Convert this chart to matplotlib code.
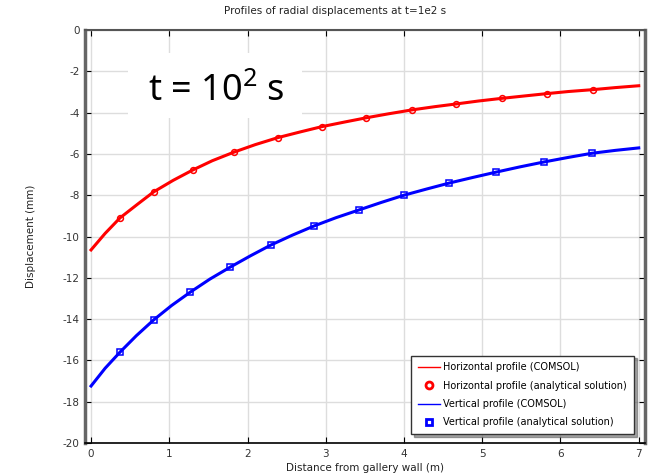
import matplotlib.pyplot as plt
from matplotlib.lines import Line2D
from matplotlib.patches import Rectangle

# =========================
# DATA
# =========================

# COMSOL curves (mm)
x_h_line = [0.0, 0.18, 0.37, 0.6, 0.8, 1.05, 1.3, 1.55, 1.83, 2.1, 2.39, 2.68, 2.95,
            3.25, 3.52, 3.8, 4.1, 4.4, 4.67, 4.95, 5.25, 5.55, 5.83, 6.1, 6.41, 6.7, 7.0]
h_line = [-10.65, -9.85, -9.1, -8.42, -7.84, -7.28, -6.78, -6.33, -5.91, -5.55, -5.21,
          -4.93, -4.68, -4.45, -4.25, -4.06, -3.87, -3.71, -3.58, -3.44, -3.31, -3.19,
          -3.08, -2.98, -2.89, -2.79, -2.70]
x_v_line = [0.0, 0.18, 0.37, 0.58, 0.80, 1.03, 1.27, 1.52, 1.78, 2.04, 2.30, 2.57, 2.85,
            3.13, 3.42, 3.71, 4.0, 4.29, 4.58, 4.88, 5.18, 5.48, 5.79, 6.1, 6.4, 6.7, 7.0]
v_line = [-17.24, -16.38, -15.6, -14.8, -14.04, -13.34, -12.69, -12.06, -11.48, -10.93,
          -10.41, -9.94, -9.49, -9.09, -8.72, -8.35, -8.0, -7.7, -7.41, -7.14, -6.88,
          -6.63, -6.39, -6.17, -5.97, -5.83, -5.71]

# analytical solution markers
x_h = [0.37, 0.80, 1.30, 1.83, 2.39, 2.95, 3.52, 4.10, 4.67, 5.25, 5.83, 6.41]
y_h = [-9.1, -7.84, -6.78, -5.91, -5.21, -4.68, -4.25, -3.87, -3.58, -3.31, -3.08, -2.89]
x_v = [0.37, 0.80, 1.27, 1.78, 2.30, 2.85, 3.42, 4.00, 4.58, 5.18, 5.79, 6.40]
y_v = [-15.6, -14.04, -12.69, -11.48, -10.41, -9.49, -8.72, -8.0, -7.41, -6.88, -6.39, -5.97]

xticks = [0, 1, 2, 3, 4, 5, 6, 7]
yticks = [0, -2, -4, -6, -8, -10, -12, -14, -16, -18, -20]

labels = ["Horizontal profile (COMSOL)",
          "Horizontal profile (analytical solution)",
          "Vertical profile (COMSOL)",
          "Vertical profile (analytical solution)"]

plt.rcParams["font.family"] = "DejaVu Sans"
plt.rcParams["axes.unicode_minus"] = False
plt.rcParams["mathtext.fontset"] = "custom"
plt.rcParams["mathtext.rm"] = "Noto Sans"
plt.rcParams["mathtext.it"] = "Noto Sans"

fig = plt.figure(figsize=(6.5, 4.73), dpi=100)
ax = fig.add_axes([0.1308, 0.0634, 0.8615, 0.8732])

ax.plot(x_h_line, h_line, color="red", linewidth=2.2, zorder=3)
ax.plot(x_h, y_h, linestyle="none", marker="o", markersize=4.2, markerfacecolor="none",
        markeredgecolor="red", markeredgewidth=1.1, zorder=4)
ax.plot(x_v_line, v_line, color="blue", linewidth=2.2, zorder=3)
ax.plot(x_v, y_v, linestyle="none", marker="s", markersize=4.2, markerfacecolor="none",
        markeredgecolor="blue", markeredgewidth=1.1, zorder=4)

ax.set_xlim(-0.077, 7.08)
ax.set_ylim(-20, 0)
ax.set_xticks(xticks)
ax.set_yticks(yticks)
ax.tick_params(direction="in", length=4, labelsize=7.5, labelcolor="#333333",
               top=True, right=True, pad=4)

ax.grid(True, color="#dddddd", linewidth=1)
ax.set_axisbelow(True)

for side in ["left", "right"]:
    ax.spines[side].set_color("#666666")
    ax.spines[side].set_linewidth(2.5)
ax.spines["top"].set_color("#555555")
ax.spines["top"].set_linewidth(1.5)
ax.spines["bottom"].set_color("black")
ax.spines["bottom"].set_linewidth(1.2)

ax.set_xlabel("Distance from gallery wall (m)", fontsize=7.5, color="#222222", labelpad=3)
ax.set_ylabel("Displacement (mm)", fontsize=7.5, color="#222222", labelpad=19)
fig.text(0.515, 0.977, "Profiles of radial displacements at t=1e2 s",
         ha="center", va="center", fontsize=7.5, color="#222222")

# time annotation on a white patch
ax.add_patch(Rectangle((0.47, -4.26), 2.22, 3.15, facecolor="white",
                       edgecolor="none", zorder=5))
ax.text(1.60, -3.44, r"t = 10$^{2}$ s", fontsize=26, fontfamily="Noto Sans",
        color="black", ha="center", va="baseline", zorder=6)

handles = [
    Line2D([], [], color="red", linewidth=1.0),
    Line2D([], [], linestyle="none", marker="o", markersize=5, markerfacecolor="white",
           markeredgecolor="red", markeredgewidth=2),
    Line2D([], [], color="blue", linewidth=1.0),
    Line2D([], [], linestyle="none", marker="s", markersize=5, markerfacecolor="white",
           markeredgecolor="blue", markeredgewidth=2),
]
leg = ax.legend(handles, labels, loc="lower right", fontsize=7.0, frameon=True,
                fancybox=False, shadow=True, edgecolor="#333333",
                bbox_to_anchor=(0.989, 0.010), handlelength=2.2, handletextpad=0.4,
                borderpad=0.7, labelspacing=0.85)
leg.get_frame().set_linewidth(1.0)

fig.savefig("out.png", dpi=100)
